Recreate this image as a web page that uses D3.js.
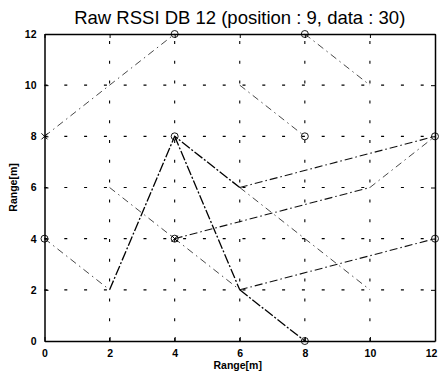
<!DOCTYPE html>
<html>
<head>
<meta charset="utf-8">
<script src="https://cdn.jsdelivr.net/npm/d3@7"></script>
<style>
  body { margin: 0; background: #fff; }
  svg { display: block; }
  text { font-family: "Liberation Sans", Arial, sans-serif; }
</style>
</head>
<body>
<div id="chart"></div>
<script>
// chart values
const titleText = 'Raw RSSI DB 12 (position : 9, data : 30)';
const xTicks = [0, 2, 4, 6, 8, 10, 12];
const yTicks = [0, 2, 4, 6, 8, 10, 12];

// reference positions (circles) and estimate marks (x)
const positions = [[0,4],[4,4],[4,8],[4,12],[8,0],[8,8],[8,12],[12,4],[12,8]];
const crosses = [[0,8],[4,4]];

// traces drawn between points
const traceA = [[0,8],[2,10],[4,12]];
const traceB = [[8,12],[10,10]];
const traceC = [[6,10],[8,8]];
const traceD = [[0,4],[2,2]];
const traceE = [[2,2],[4,8],[6,6]];
const traceF = [[6,6],[12,8]];
const traceG = [[4,8],[6,2]];
const traceH = [[6,2],[12,4]];
const traceI = [[2,6],[4,4],[6,2]];
const traceJ = [[6,2],[8,0]];
const traceK = [[4,4],[10,6]];
const traceM = [[10,6],[12,8]];
const traceL = [[6,6],[8,4],[10,2]];

const lightTraces = [traceA, traceB, traceC, traceD, traceI, traceL, traceM];
const midTraces = [traceF, traceH, traceK];
const darkTraces = [traceE, traceG, traceJ];

const W = 439, H = 376;
const m = { left: 44.5, right: 4, top: 34, bottom: 35 };

const svg = d3.select('#chart').append('svg')
  .attr('width', W).attr('height', H);

const x = d3.scaleLinear().domain([0, 12]).range([m.left, W - m.right]);
const y = d3.scaleLinear().domain([0, 12]).range([H - m.bottom, m.top]);

// dotted grid
const grid = svg.append('g').attr('stroke', '#000').attr('stroke-width', 1.1)
  .attr('stroke-dasharray', '3,16.8');
grid.selectAll('line.v').data(xTicks.slice(1, -1)).join('line')
  .attr('class', 'v')
  .attr('x1', d => x(d)).attr('x2', d => x(d))
  .attr('y1', y(0)).attr('y2', y(12));
grid.selectAll('line.h').data(yTicks.slice(1, -1)).join('line')
  .attr('class', 'h')
  .attr('x1', x(0)).attr('x2', x(12))
  .attr('y1', d => y(d)).attr('y2', d => y(d));

// traces
const line = d3.line().x(d => x(d[0])).y(d => y(d[1]));
svg.append('g').selectAll('path').data(lightTraces).join('path')
  .attr('d', line).attr('fill', 'none').attr('stroke', '#333')
  .attr('stroke-width', 0.9).attr('stroke-dasharray', '7,4,1.5,4');
svg.append('g').selectAll('path').data(midTraces).join('path')
  .attr('d', line).attr('fill', 'none').attr('stroke', '#111')
  .attr('stroke-width', 1.1).attr('stroke-dasharray', '8,3,1.5,3');
svg.append('g').selectAll('path').data(darkTraces).join('path')
  .attr('d', line).attr('fill', 'none').attr('stroke', '#000')
  .attr('stroke-width', 1.3).attr('stroke-dasharray', '10,2,2,2');

// markers
svg.append('g').selectAll('circle').data(positions).join('circle')
  .attr('cx', d => x(d[0])).attr('cy', d => y(d[1])).attr('r', 3.5)
  .attr('fill', 'none').attr('stroke', '#000').attr('stroke-width', 0.9);
svg.append('g').selectAll('path').data(crosses).join('path')
  .attr('d', d => {
    const cx = x(d[0]), cy = y(d[1]), s = 3;
    return `M${cx-s},${cy-s}L${cx+s},${cy+s}M${cx-s},${cy+s}L${cx+s},${cy-s}`;
  })
  .attr('stroke', '#000').attr('stroke-width', 1);

// axes with inward ticks
const axStyle = g => {
  g.select('.domain').attr('stroke', '#000').attr('stroke-width', 1.5);
  g.selectAll('.tick line').attr('stroke', '#000').attr('stroke-width', 1);
  g.selectAll('.tick text').attr('font-size', 10.5).attr('font-weight', 'bold')
    .attr('fill', '#000').attr('font-family', '"Liberation Sans", Arial, sans-serif');
};
const xAxisG = svg.append('g').attr('transform', `translate(0,${y(0)})`)
  .call(d3.axisBottom(x).tickValues(xTicks).tickSizeInner(-4).tickSizeOuter(0).tickPadding(9))
  .call(axStyle);
// last label sits at the window edge
xAxisG.selectAll('.tick text').filter(d => d === 12).attr('dx', -4);
svg.append('g').attr('transform', `translate(0,${y(12)})`)
  .call(d3.axisTop(x).tickValues(xTicks).tickSizeInner(-4).tickSizeOuter(0).tickFormat(''))
  .call(axStyle);
svg.append('g').attr('transform', `translate(${x(0)},0)`)
  .call(d3.axisLeft(y).tickValues(yTicks).tickSizeInner(-4).tickSizeOuter(0).tickPadding(8))
  .call(axStyle);
svg.append('g').attr('transform', `translate(${x(12)},0)`)
  .call(d3.axisRight(y).tickValues(yTicks).tickSizeInner(-4).tickSizeOuter(0).tickFormat(''))
  .call(axStyle);

// title and labels
svg.append('text').attr('x', x(6)).attr('y', 24).attr('text-anchor', 'middle')
  .attr('font-size', 18.5).text(titleText);
svg.append('text').attr('x', x(6) - 2).attr('y', 369).attr('text-anchor', 'middle')
  .attr('font-size', 10.5).attr('font-weight', 'bold').text('Range[m]');
svg.append('text').attr('transform', `translate(17,${(y(0) + y(12)) / 2}) rotate(-90)`)
  .attr('text-anchor', 'middle').attr('font-size', 10.5).attr('font-weight', 'bold')
  .text('Range[m]');
</script>
</body>
</html>
